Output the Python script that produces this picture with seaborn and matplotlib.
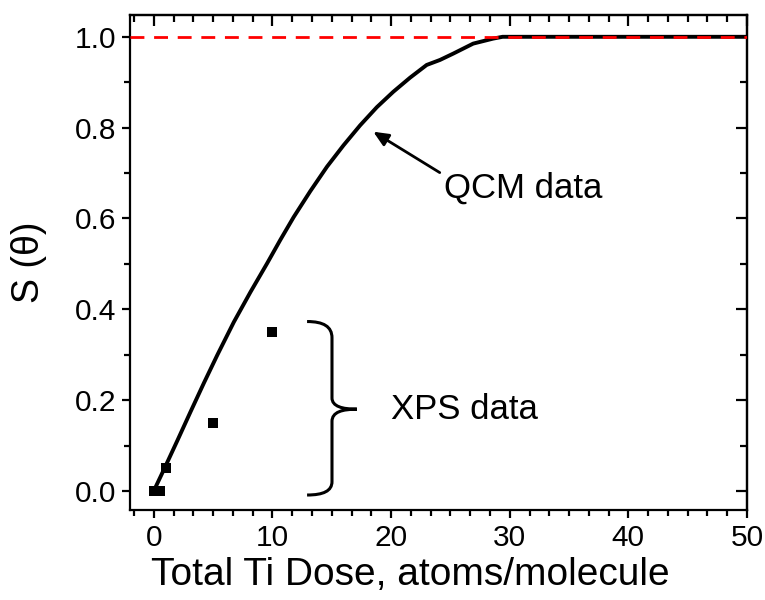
import matplotlib
matplotlib.use("Agg")
import matplotlib.pyplot as plt
from matplotlib.path import Path
from matplotlib.patches import PathPatch
from matplotlib.ticker import MultipleLocator, AutoMinorLocator, FormatStrFormatter
import seaborn as sns
import pandas as pd

# QCM curve
qcm_dose = [0.0, 0.87, 1.99, 3.11, 4.23, 5.35, 6.75, 8.15, 9.55, 10.67, 11.79, 13.19,
            14.60, 15.99, 17.39, 18.80, 20.19, 21.60, 23.0, 24.12, 25.24, 26.92,
            28.6, 29.4, 40.0, 50.0]
qcm_s = [0.0, 0.048, 0.111, 0.175, 0.238, 0.299, 0.372, 0.438, 0.501, 0.553, 0.603, 0.660,
         0.714, 0.761, 0.805, 0.845, 0.879, 0.910, 0.938, 0.949, 0.963, 0.985,
         0.996, 1.0, 1.0, 1.0]

# XPS points
xps_dose = [0.0, 0.5, 1.0, 5.0, 10.0]
xps_s = [0.0, 0.0, 0.05, 0.15, 0.35]

saturation = 1.0

sns.set_style("ticks")
plt.rcParams['font.family'] = ['Liberation Sans', 'DejaVu Sans']
plt.rcParams['text.color'] = 'black'
plt.rcParams['axes.labelcolor'] = 'black'
plt.rcParams['xtick.color'] = 'black'
plt.rcParams['ytick.color'] = 'black'
plt.rcParams['axes.edgecolor'] = 'black'

fig = plt.figure(figsize=(7.65, 6.0), dpi=100)
ax = fig.add_axes([0.170, 0.150, 0.8065, 0.825])

qcm = pd.DataFrame({"dose": qcm_dose, "s": qcm_s})
xps = pd.DataFrame({"dose": xps_dose, "s": xps_s})

ax.axhline(saturation, color="red", lw=2.0, ls=(0, (5, 3.5)), zorder=3)
sns.lineplot(data=qcm, x="dose", y="s", ax=ax, color="black", lw=2.8, sort=False, zorder=2)
sns.scatterplot(data=xps, x="dose", y="s", ax=ax, marker="s", s=55, color="black",
                edgecolor="black", linewidth=0, zorder=4)

ax.set_xlim(-2, 50)
ax.set_ylim(-0.042, 1.048)
ax.xaxis.set_major_locator(MultipleLocator(10))
ax.xaxis.set_minor_locator(AutoMinorLocator(6))
ax.yaxis.set_major_locator(MultipleLocator(0.2))
ax.yaxis.set_minor_locator(AutoMinorLocator(2))
ax.yaxis.set_major_formatter(FormatStrFormatter('%.1f'))

ax.set_xlabel("Total Ti Dose, atoms/molecule", fontsize=28)
ax.xaxis.set_label_coords(0.454, -0.095)
ax.set_ylabel("S (θ)", fontsize=27)
ax.yaxis.set_label_coords(-0.135, 0.5)

for sp in ax.spines.values():
    sp.set_linewidth(1.6)
    sp.set_visible(True)
ax.tick_params(which="major", direction="out", length=6, width=1.6, labelsize=21.5, pad=4)
ax.tick_params(which="minor", direction="out", length=4, width=1.6)

top = ax.secondary_xaxis('top')
top.xaxis.set_major_locator(MultipleLocator(10))
top.xaxis.set_minor_locator(AutoMinorLocator(6))
top.tick_params(which="major", direction="in", length=8, width=1.6, labeltop=False)
top.tick_params(which="minor", direction="in", length=5, width=1.6)
top.spines['top'].set_linewidth(1.6)
right = ax.secondary_yaxis('right')
right.yaxis.set_major_locator(MultipleLocator(0.2))
right.yaxis.set_minor_locator(AutoMinorLocator(2))
right.tick_params(which="major", direction="in", length=8, width=1.6, labelright=False)
right.tick_params(which="minor", direction="in", length=5, width=1.6)
right.spines['right'].set_linewidth(1.6)

# annotation arrow + text
ax.annotate("", xy=(18.5, 0.791), xytext=(24.1, 0.701),
            arrowprops=dict(arrowstyle="-|>,head_length=0.9,head_width=0.4",
                            color="black", lw=2.0, shrinkA=0, shrinkB=0))
ax.text(24.5, 0.667, "QCM data", fontsize=25, va="center", ha="left", color="black")
ax.text(20.0, 0.18, "XPS data", fontsize=25, va="center", ha="left", color="black")

# curly brace
bx0, bx1, bx2 = 12.92, 15.02, 17.12
ytop, ymid, ybot = 0.373, 0.18, -0.009
verts = [(bx0, ytop), (14.3, ytop), (bx1, 0.362), (bx1, 0.337),
         (bx1, 0.205),
         (bx1, 0.186), (15.9, ymid), (bx2, ymid),
         (15.9, ymid), (bx1, 0.174), (bx1, 0.153),
         (bx1, 0.0205),
         (bx1, 0.0), (14.3, ybot), (bx0, ybot)]
codes = [Path.MOVETO, Path.CURVE4, Path.CURVE4, Path.CURVE4,
         Path.LINETO,
         Path.CURVE4, Path.CURVE4, Path.CURVE4,
         Path.CURVE4, Path.CURVE4, Path.CURVE4,
         Path.LINETO,
         Path.CURVE4, Path.CURVE4, Path.CURVE4]
ax.add_patch(PathPatch(Path(verts, codes), fill=False, lw=2.2, color="black", clip_on=False))

fig.savefig("out.png", dpi=100)
